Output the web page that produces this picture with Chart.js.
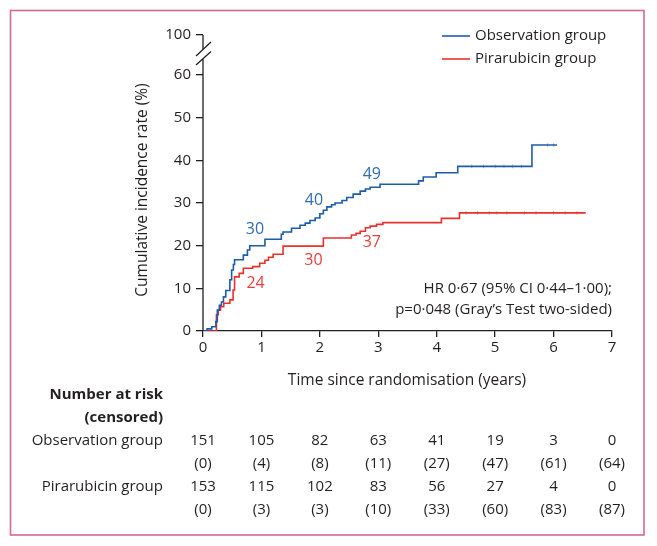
<!DOCTYPE html>
<html>
<head>
<meta charset="utf-8">
<script src="https://cdn.jsdelivr.net/npm/chart.js@4"></script>
<style>
  html, body { margin: 0; padding: 0; background: #fff; }
  #wrap { width: 657px; height: 546px; position: relative; }
</style>
</head>
<body>
<div id="wrap"><canvas id="chart-km"></canvas></div>
<script>
  // step curves (time in years, cumulative incidence %)
  const obsTimes = [0, 0.07, 0.15, 0.22, 0.245, 0.28, 0.315, 0.35, 0.39, 0.46, 0.49, 0.52, 0.54, 0.69, 0.76, 0.80, 1.06, 1.34, 1.37, 1.515, 1.66, 1.75, 1.83, 1.92, 2.0, 2.06, 2.12, 2.2, 2.26, 2.38, 2.46, 2.57, 2.69, 2.78, 2.86, 3.03, 3.69, 3.77, 3.99, 4.36, 5.63, 6.06];
  const obsValues = [0, 0.5, 1.0, 2.2, 4.9, 6.0, 6.8, 8.0, 9.5, 12.0, 14.3, 15.6, 16.7, 17.8, 19.0, 20.0, 21.5, 22.7, 23.2, 24.1, 24.8, 25.3, 25.9, 26.5, 27.5, 28.3, 29.1, 29.6, 30.0, 30.6, 31.3, 32.1, 32.8, 33.3, 33.7, 34.4, 35.2, 36.1, 37.1, 38.6, 43.6, 43.6];

  const piraTimes = [0, 0.23, 0.26, 0.30, 0.355, 0.46, 0.515, 0.54, 0.62, 0.69, 0.85, 0.97, 1.06, 1.12, 1.2, 1.37, 2.06, 2.54, 2.62, 2.69, 2.78, 2.86, 2.97, 3.08, 4.08, 4.39, 6.55];
  const piraValues = [0, 3.8, 4.9, 5.7, 6.5, 7.3, 9.6, 12.7, 13.5, 14.7, 15.1, 15.9, 16.6, 17.3, 18.0, 19.9, 21.8, 22.5, 22.9, 23.4, 24.2, 24.6, 25.0, 25.4, 26.4, 27.7, 27.7];

  // censoring marks (times)
  const obsCensor = [4.6, 4.8, 5.0, 5.15, 5.3, 5.45, 5.9, 6.0];
  const piraCensor = [4.5, 4.7, 4.9, 5.03, 5.2, 5.5, 5.7, 6.0, 6.2, 6.4];

  // events annotated on the curves
  const obsEventLabels = ['30', '40', '49'];
  const piraEventLabels = ['24', '30', '37'];

  // number at risk table
  const riskYears = [0, 1, 2, 3, 4, 5, 6, 7];
  const obsAtRisk = [151, 105, 82, 63, 41, 19, 3, 0];
  const obsCensored = [0, 4, 8, 11, 27, 47, 61, 64];
  const piraAtRisk = [153, 115, 102, 83, 56, 27, 4, 0];
  const piraCensored = [0, 3, 3, 10, 33, 60, 83, 87];

  const yTicks = [0, 10, 20, 30, 40, 50, 60];
  const yBreakTop = 69.4; // where "100" sits after the axis break

  const BLUE = '#1c5ca8';
  const RED = '#e8312c';
  const INK = '#231f20';
  const FONT = '"Open Sans", "Noto Sans", sans-serif';

  function toPoints(times, values) {
    return times.map((t, i) => ({ x: t, y: values[i] }));
  }

  function censorPoints(cTimes, times, values) {
    return cTimes.map((c) => {
      let v = values[0];
      for (let i = 0; i < times.length; i++) {
        if (times[i] <= c) v = values[i];
      }
      return { x: c, y: v };
    });
  }

  const extras = {
    id: 'extras',
    afterDraw(chart) {
      const ctx = chart.ctx;
      const xs = chart.scales.x;
      const ys = chart.scales.y;
      const left = chart.chartArea.left;
      const y0 = ys.getPixelForValue(0);
      const yTop = ys.getPixelForValue(yBreakTop);
      ctx.save();

      // frame
      ctx.strokeStyle = '#d66b88';
      ctx.lineWidth = 1.6;
      ctx.strokeRect(10.5, 10.5, 633.5, 524.5);

      // y axis with break
      ctx.strokeStyle = INK;
      ctx.lineWidth = 1.3;
      ctx.beginPath();
      ctx.moveTo(left, y0);
      ctx.lineTo(left, 59);
      ctx.moveTo(left, 49.5);
      ctx.lineTo(left, yTop);
      ctx.moveTo(left - 7, 56);
      ctx.lineTo(left + 8, 42);
      ctx.moveTo(left - 7, 65);
      ctx.lineTo(left + 8, 51.5);
      ctx.stroke();

      // legend
      ctx.lineWidth = 1.6;
      ctx.font = '15px ' + FONT;
      ctx.textBaseline = 'middle';
      ctx.textAlign = 'left';
      [[BLUE, 'Observation group', 36], [RED, 'Pirarubicin group', 59]].forEach(([c, t, y]) => {
        ctx.strokeStyle = c;
        ctx.beginPath();
        ctx.moveTo(442, y);
        ctx.lineTo(470, y);
        ctx.stroke();
        ctx.fillStyle = INK;
        ctx.fillText(t, 475, y);
      });

      // event counts on curves
      ctx.font = '16px ' + FONT;
      ctx.textAlign = 'center';
      const obsPos = [[0.89, 23.7], [1.9, 30.7], [2.89, 36.8]];
      const piraPos = [[0.9, 11.2], [1.89, 16.6], [2.89, 20.7]];
      ctx.fillStyle = '#2f6cb4';
      obsEventLabels.forEach((t, i) => {
        ctx.fillText(t, xs.getPixelForValue(obsPos[i][0]), ys.getPixelForValue(obsPos[i][1]));
      });
      ctx.fillStyle = '#e8403c';
      piraEventLabels.forEach((t, i) => {
        ctx.fillText(t, xs.getPixelForValue(piraPos[i][0]), ys.getPixelForValue(piraPos[i][1]));
      });

      // HR text
      ctx.fillStyle = INK;
      ctx.font = '15px ' + FONT;
      ctx.textAlign = 'right';
      ctx.fillText('HR 0·67 (95% CI 0·44–1·00);', 612, 289);
      ctx.fillText('p=0·048 (Gray’s Test two-sided)', 612, 310);

      // axis titles
      ctx.textAlign = 'center';
      ctx.font = '15.5px ' + FONT;
      ctx.fillText('Time since randomisation (years)', 407, 381);
      ctx.save();
      ctx.translate(143, 190);
      ctx.rotate(-Math.PI / 2);
      ctx.fillText('Cumulative incidence rate (%)', 0, 0);
      ctx.restore();

      // risk table
      ctx.textAlign = 'right';
      ctx.font = 'bold 15px ' + FONT;
      ctx.fillText('Number at risk', 163, 395);
      ctx.fillText('(censored)', 163, 418);
      ctx.font = '15px ' + FONT;
      ctx.fillText('Observation group', 163, 441);
      ctx.fillText('Pirarubicin group', 163, 487);
      ctx.textAlign = 'center';
      riskYears.forEach((yr, i) => {
        const px = xs.getPixelForValue(yr);
        ctx.fillText(String(obsAtRisk[i]), px, 441);
        ctx.fillText('(' + obsCensored[i] + ')', px, 464);
        ctx.fillText(String(piraAtRisk[i]), px, 487);
        ctx.fillText('(' + piraCensored[i] + ')', px, 510);
      });
      ctx.restore();
    },
  };

  new Chart(document.getElementById('chart-km'), {
    type: 'scatter',
    data: {
      datasets: [
        {
          data: toPoints(obsTimes, obsValues),
          showLine: true,
          stepped: 'before',
          borderColor: BLUE,
          borderWidth: 1.6,
          pointRadius: 0,
          fill: false,
        },
        {
          data: toPoints(piraTimes, piraValues),
          showLine: true,
          stepped: 'before',
          borderColor: RED,
          borderWidth: 1.6,
          pointRadius: 0,
          fill: false,
        },
        {
          data: censorPoints(obsCensor, obsTimes, obsValues),
          pointStyle: 'line',
          rotation: 90,
          radius: 1.8,
          borderColor: 'rgba(28, 92, 168, 0.6)',
          borderWidth: 0.8,
        },
        {
          data: censorPoints(piraCensor, piraTimes, piraValues),
          pointStyle: 'line',
          rotation: 90,
          radius: 1.8,
          borderColor: 'rgba(232, 49, 44, 0.6)',
          borderWidth: 0.8,
        },
      ],
    },
    options: {
      responsive: true,
      maintainAspectRatio: false,
      animation: false,
      layout: { padding: { top: 35, right: 45, bottom: 185, left: 0 } },
      plugins: {
        legend: { display: false },
        tooltip: { enabled: false },
      },
      scales: {
        x: {
          type: 'linear',
          min: 0,
          max: 7,
          afterFit: (scale) => { scale.height = 30; },
          ticks: {
            stepSize: 1,
            color: INK,
            font: { size: 15, family: FONT },
            padding: 2,
          },
          border: { color: INK, width: 1.3 },
          grid: { drawOnChartArea: false, tickLength: 6, color: INK, lineWidth: 1.3 },
        },
        y: {
          min: 0,
          max: yBreakTop,
          afterFit: (scale) => { scale.width = 203; },
          afterBuildTicks: (scale) => {
            scale.ticks = yTicks.concat([yBreakTop]).map((v) => ({ value: v }));
          },
          ticks: {
            color: INK,
            font: { size: 15, family: FONT },
            padding: 5,
            callback: (v) => (v > 65 ? '100' : v),
          },
          border: { display: false },
          grid: { drawOnChartArea: false, tickLength: 7, color: INK, lineWidth: 1.3 },
        },
      },
    },
    plugins: [extras],
  });
</script>
</body>
</html>
